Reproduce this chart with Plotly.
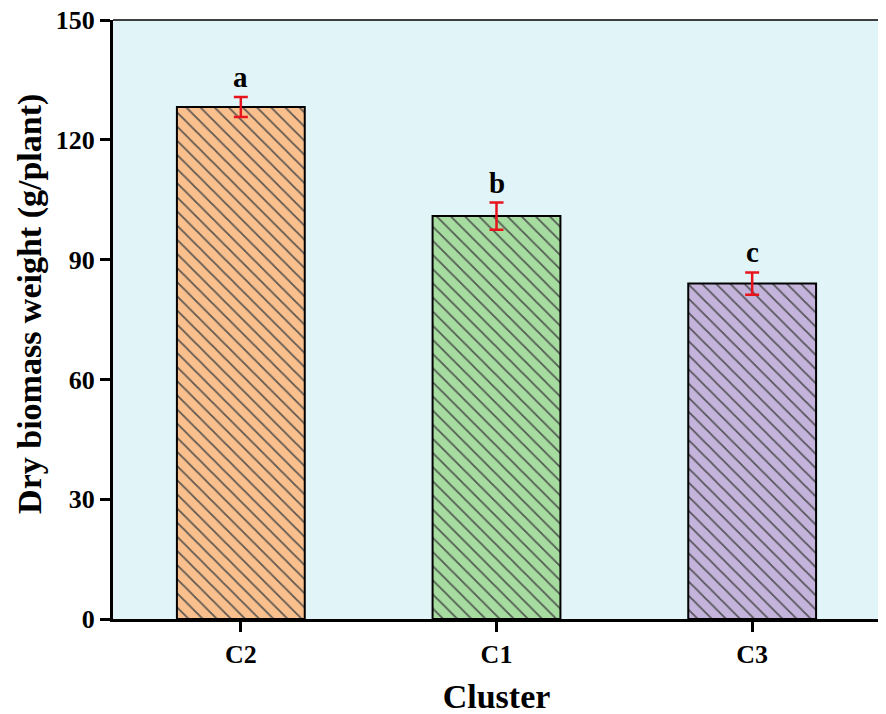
import plotly.graph_objects as go

categories = ["C2", "C1", "C3"]
values = [128.2, 100.9, 84.0]
errors = [2.5, 3.4, 2.8]
letters = ["a", "b", "c"]
colors = ["#F9C08E", "#A6DCA0", "#C4B4DC"]
y_ticks = [0, 30, 60, 90, 120, 150]

FONT = "Liberation Serif"

fig = go.Figure()
fig.add_trace(go.Bar(
    x=categories, y=values, width=0.5,
    marker=dict(color=colors, line=dict(color="black", width=2),
                pattern=dict(shape="\\", size=10, solidity=0.18, fgcolor="#2e2428", fgopacity=0.85)),
    error_y=dict(type="data", array=errors, color="#E8141C", thickness=2.5, width=7),
))
for c, v, e, t in zip(categories, values, errors, letters):
    fig.add_annotation(x=c, y=v + e, text=t, showarrow=False, yanchor="bottom", yshift=2,
                       font=dict(family=FONT, size=29, color="black", weight="bold"))

# y-axis title as an annotation (placed slightly above plot centre, as in the reference)
fig.add_annotation(xref="paper", yref="paper", x=0, y=0.526, xshift=-83, xanchor="center", yanchor="middle",
                   text="Dry biomass weight (g/plant)", textangle=-90, showarrow=False,
                   font=dict(family=FONT, size=34, color="black", weight="bold"))

fig.update_layout(
    width=878, height=707,
    margin=dict(l=105, r=6, t=12, b=96, autoexpand=False),
    paper_bgcolor="white", plot_bgcolor="#E1F5F9",
    showlegend=False,
    font=dict(family=FONT, color="black"),
)
fig.update_xaxes(
    range=[-0.5, 2.5], showline=True, linecolor="black", linewidth=3, ticks="outside", ticklen=10,
    tickwidth=3, tickcolor="black", tickfont=dict(family=FONT, size=26, color="black", weight="bold"),
    title=dict(text="Cluster", font=dict(family=FONT, size=34, color="black", weight="bold"), standoff=24),
    showgrid=False, zeroline=False, automargin=False, ticklabeloverflow="allow",
)
fig.update_yaxes(
    range=[0, 150], tickvals=y_ticks, showline=True, linecolor="black", linewidth=3, ticks="outside",
    ticklen=10, tickwidth=3, tickcolor="black", tickfont=dict(family=FONT, size=26, color="black", weight="bold"),
    showgrid=False, zeroline=False, automargin=False, ticklabeloverflow="allow",
)
# thin top and right frame
fig.add_shape(type="line", xref="paper", yref="paper", x0=0, x1=1, y0=1, y1=1, line=dict(color="black", width=1.5))
fig.add_shape(type="line", xref="paper", yref="paper", x0=1, x1=1, y0=0, y1=1, line=dict(color="black", width=1.5))

fig.write_html("out.html")
